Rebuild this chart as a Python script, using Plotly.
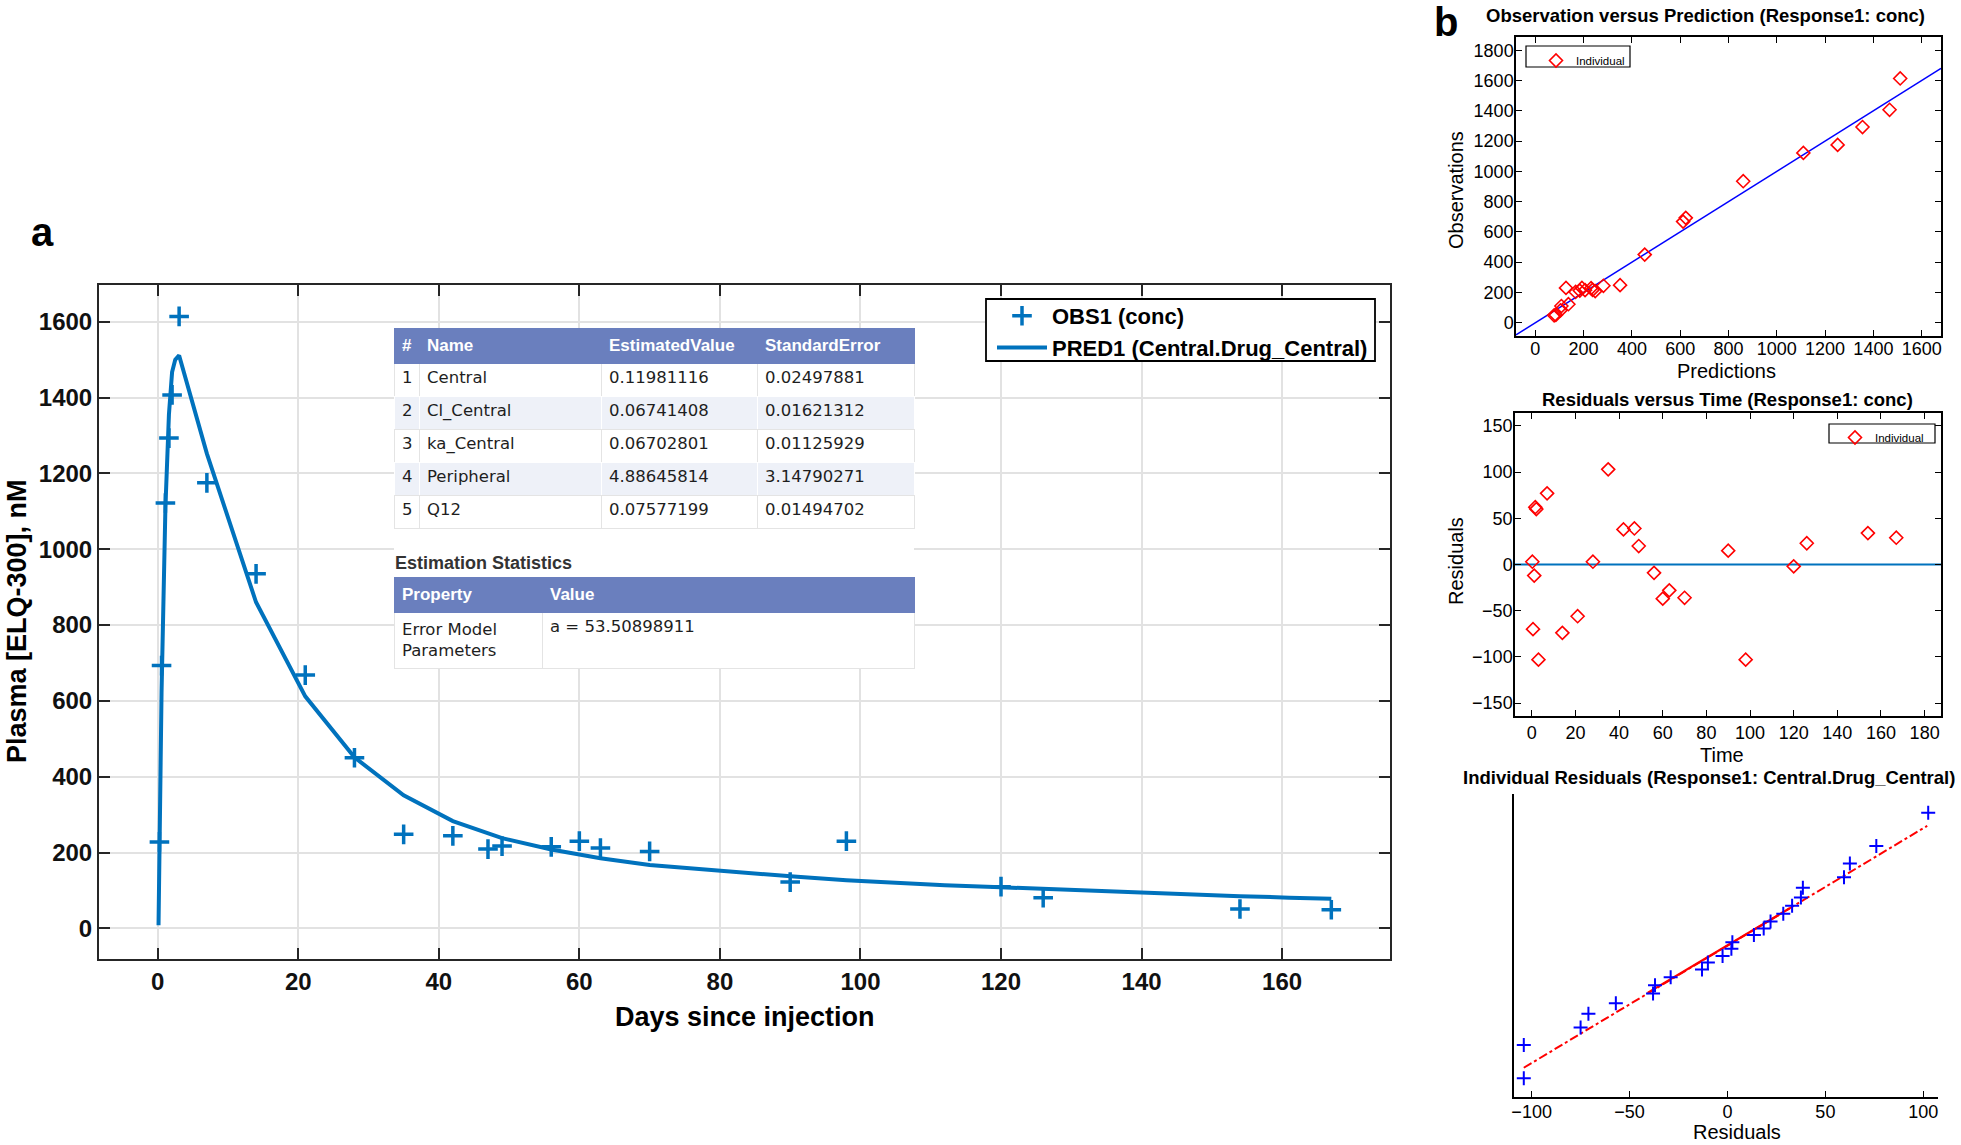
import plotly.graph_objects as go

W, H = 1961, 1145

# ---------------- Panel a: concentration-time data ----------------
obs_days = [0.25, 0.55, 1.1, 1.6, 2.05, 3.05, 7, 14, 21, 28, 35, 42, 47, 49, 56, 60, 63, 70,
            90, 98, 120, 126, 154, 167]
obs_conc = [228, 693, 1122, 1293, 1407, 1614, 1175, 935, 668, 450, 248, 244, 209, 217, 215, 230,
            212, 203, 122, 230, 110, 81, 51, 49]
pred_days = [0.12, 0.25, 0.55, 1.1, 1.6, 2.05, 2.5, 3.05, 7, 14, 21, 28, 35, 42, 49, 56, 63, 70,
             77, 84, 91, 98, 105, 112, 119, 126, 133, 140, 147, 154, 161, 167]
pred_conc = [8, 231, 623, 1110, 1355, 1467, 1500, 1511, 1252, 860, 612, 451, 351, 283, 238, 208,
             185, 167, 156, 146, 136, 127, 120, 114, 109, 104, 98, 93, 89, 85, 81, 78]

# Parameter estimates table
param_index = ["1", "2", "3", "4", "5"]
param_names = ["Central", "Cl_Central", "ka_Central", "Peripheral", "Q12"]
param_estimates = ["0.11981116", "0.06741408", "0.06702801", "4.88645814", "0.07577199"]
param_std_errors = ["0.02497881", "0.01621312", "0.01125929", "3.14790271", "0.01494702"]
table_header = ["#", "Name", "EstimatedValue", "StandardError"]
stats_header = ["Property", "Value"]
stats_property = ["Error Model<br>Parameters"]
stats_value = ["a = 53.50898911"]

# ---------------- Panel b: diagnostics ----------------
pred_at_obs = [231, 623, 1110, 1355, 1467, 1511, 1252, 861, 612, 453, 351, 282, 248, 237, 206,
               193, 184, 167, 137, 127, 108, 104, 85, 78]
identity_line = [-80, 1680]
residuals = [3, -70, -12, 62, 60, -103, 77, -74, -56, 3, 103, 38, 39, 20, -9, -37, -28, -36,
             15, -103, -2, 23, 34, 29]
qq_residuals = [-104, -104, -75, -71, -57, -38, -37, -29, -13, -10, -2.5, 2, 2.5, 13.5, 18.5,
                22, 28.5, 33, 37.5, 38.5, 59.5, 62.5, 76, 102.5]
qq_quantiles = [-2.04, -1.53, -1.26, -1.05, -0.89, -0.74, -0.61, -0.49, -0.37, -0.26, -0.16,
                -0.05, 0.05, 0.16, 0.26, 0.37, 0.49, 0.61, 0.74, 0.89, 1.05, 1.26, 1.53, 2.04]
qq_line_x = [-104, 102]
qq_line_y = [-1.88, 1.84]
qq_quartile_x = [-40.6, 31.8]
qq_quartile_y = [-0.725, 0.572]

MBLUE = "#0072BD"
HDR = "#6A7FBE"
ALT = "#EEF1F8"
HELV = "Liberation Sans, Arial, Helvetica, sans-serif"
LUC = "DejaVu Sans, Verdana, sans-serif"


def px_x(p):
    return p / W


def px_y(p):
    return 1 - p / H


fig = go.Figure()

# ---- panel a traces
fig.add_trace(go.Scatter(x=pred_days, y=pred_conc, mode="lines", name="PRED1 (Central.Drug_Central)",
                         line=dict(color=MBLUE, width=4), legendrank=2, xaxis="x", yaxis="y",
                         legend="legend"))
fig.add_trace(go.Scatter(x=obs_days, y=obs_conc, mode="markers", name="OBS1 (conc)",
                         marker=dict(symbol="cross-thin", size=14, color=MBLUE,
                                     line=dict(width=3.5, color=MBLUE)),
                         legendrank=1, xaxis="x", yaxis="y", legend="legend"))

# ---- white backing panel for the tables (hides the grid behind them)
fig.add_trace(go.Table(
    domain=dict(x=[px_x(394), px_x(914)], y=[px_y(700), px_y(328)]),
    header=dict(values=[""], height=1, fill_color="white", line=dict(width=0)),
    cells=dict(values=[[""]], height=335, fill_color="white", line=dict(width=0)),
    hoverinfo="skip",
))

# ---- tables
row_fill = ["white", ALT, "white", ALT, "white"]
row_line = ["#e4e4e4", "white", "#e4e4e4", "white", "#e4e4e4"]
fig.add_trace(go.Table(
    domain=dict(x=[px_x(394), px_x(914)], y=[px_y(540), px_y(328)]),
    columnwidth=[25, 182, 156, 157],
    header=dict(values=["<b>%s</b>" % h for h in table_header], fill_color=HDR, height=30,
                align="left", line=dict(color=HDR, width=1),
                font=dict(family=HELV, size=17, color="white")),
    cells=dict(values=[param_index, param_names, param_estimates, param_std_errors],
               fill_color=[row_fill] * 4, line=dict(color=[row_line] * 4, width=1),
               height=33, align="left", font=dict(family=LUC, size=16.5, color="#1e1e1e")),
))
fig.add_trace(go.Table(
    domain=dict(x=[px_x(394), px_x(914)], y=[px_y(680), px_y(577)]),
    columnwidth=[148, 372],
    header=dict(values=["<b>%s</b>" % h for h in stats_header], fill_color=HDR, height=33,
                align="left", line=dict(color=HDR, width=1),
                font=dict(family=HELV, size=17, color="white")),
    cells=dict(values=[stats_property, stats_value], fill_color="white",
               line=dict(color="#e4e4e4", width=1), height=52, align="left",
               font=dict(family=LUC, size=16.5, color="#1e1e1e")),
))

# ---- panel b1: observation vs prediction
fig.add_trace(go.Scatter(x=identity_line, y=identity_line, mode="lines", showlegend=False,
                         line=dict(color="#0000FF", width=1.5), xaxis="x2", yaxis="y2"))
fig.add_trace(go.Scatter(x=pred_at_obs, y=obs_conc, mode="markers", name="Individual",
                         marker=dict(symbol="diamond-open", size=10, color="#FF0000",
                                     line=dict(width=1.6, color="#FF0000")),
                         xaxis="x2", yaxis="y2", legend="legend2"))

# ---- panel b2: residuals vs time
fig.add_trace(go.Scatter(x=obs_days, y=residuals, mode="markers", name="Individual",
                         marker=dict(symbol="diamond-open", size=10, color="#FF0000",
                                     line=dict(width=1.6, color="#FF0000")),
                         xaxis="x3", yaxis="y3", legend="legend3"))

# ---- panel b3: normal probability plot of residuals
fig.add_trace(go.Scatter(x=qq_line_x, y=qq_line_y, mode="lines", showlegend=False,
                         line=dict(color="#FF0000", width=2, dash="dashdot"),
                         xaxis="x4", yaxis="y4"))
fig.add_trace(go.Scatter(x=qq_quartile_x, y=qq_quartile_y, mode="lines", showlegend=False,
                         line=dict(color="#FF0000", width=2.2), xaxis="x4", yaxis="y4"))
fig.add_trace(go.Scatter(x=qq_residuals, y=qq_quantiles, mode="markers", showlegend=False,
                         marker=dict(symbol="cross-thin", size=10, color="#0000FF",
                                     line=dict(width=2, color="#0000FF")),
                         xaxis="x4", yaxis="y4"))

main_ax = dict(showline=True, linecolor="#262626", linewidth=2, mirror="ticks", ticks="inside",
               ticklen=11, tickwidth=2, tickcolor="#262626", showgrid=True, gridcolor="#e2e2e2",
               gridwidth=1.5, zeroline=False, automargin=False,
               tickfont=dict(family=HELV, size=24, color="#111111", weight="bold"))
b_ax = dict(showline=True, linecolor="#000000", linewidth=1.5, mirror="ticks", ticks="inside",
            ticklen=6, tickwidth=1.2, tickcolor="#000000", showgrid=False, zeroline=False,
            automargin=False, tickfont=dict(family=HELV, size=18, color="#000000"))

fig.update_layout(
    width=W, height=H, margin=dict(l=0, r=0, t=0, b=0), template="none",
    paper_bgcolor="white", plot_bgcolor="white",
    xaxis=dict(main_ax, domain=[px_x(99), px_x(1390)], anchor="y", range=[-8.35, 175.35],
               tickvals=list(range(0, 161, 20))),
    yaxis=dict(main_ax, domain=[px_y(959), px_y(285)], anchor="x", range=[-80.8, 1696.8],
               tickvals=list(range(0, 1601, 200))),
    xaxis2=dict(b_ax, domain=[px_x(1516), px_x(1941)], anchor="y2", range=[-80, 1680],
                tickvals=list(range(0, 1601, 200)), ticklabelstandoff=-4),
    yaxis2=dict(b_ax, domain=[px_y(336), px_y(37)], anchor="x2", range=[-88, 1888],
                tickvals=list(range(0, 1801, 200)), ticklabelstandoff=-3),
    xaxis3=dict(b_ax, domain=[px_x(1515), px_x(1941)], anchor="y3", range=[-7.7, 187.5],
                tickvals=list(range(0, 181, 20))),
    yaxis3=dict(b_ax, domain=[px_y(716), px_y(413)], anchor="x3", range=[-164, 164],
                tickvals=list(range(-150, 151, 50)), ticklabelstandoff=-3),
    xaxis4=dict(b_ax, mirror=False, domain=[px_x(1514), px_x(1938)], anchor="y4",
                range=[-109, 107.5], tickvals=[-100, -50, 0, 50, 100], ticklabelstandoff=-2),
    yaxis4=dict(b_ax, mirror=False, ticks="", showticklabels=False,
                domain=[px_y(1097), px_y(794)], anchor="x4", range=[-2.33, 2.33]),
    legend=dict(x=px_x(992), y=px_y(295), xanchor="left", yanchor="top",
                bgcolor="rgba(0,0,0,0)", borderwidth=0, itemwidth=50, tracegroupgap=0,
                font=dict(family=HELV, size=22, color="#000000", weight="bold")),
    legend2=dict(x=px_x(1536), y=px_y(46), xanchor="left", yanchor="top",
                 bgcolor="rgba(0,0,0,0)", borderwidth=0, itemwidth=30,
                 font=dict(family=HELV, size=11.5, color="#000000")),
    legend3=dict(x=px_x(1835), y=px_y(423), xanchor="left", yanchor="top",
                 bgcolor="rgba(0,0,0,0)", borderwidth=0, itemwidth=30,
                 font=dict(family=HELV, size=11.5, color="#000000")),
    showlegend=True,
)

# legend frames (drawn underneath the legend entries)
for (x0, y0, x1, y1, lw) in [(986, 299, 1375, 361, 1.8), (1526, 46, 1630, 67, 1.2),
                             (1829, 424, 1935, 443, 1.2)]:
    fig.add_shape(type="rect", xref="paper", yref="paper", x0=px_x(x0), x1=px_x(x1),
                  y0=px_y(y1), y1=px_y(y0), fillcolor="white",
                  line=dict(color="#000000", width=lw), layer="above")

# zero reference line in residual plot
fig.add_shape(type="line", xref="x3 domain", x0=0, x1=1, yref="y3", y0=0, y1=0,
              line=dict(color=MBLUE, width=2), layer="below")


def ann(text, x, y, size, bold=False, angle=0, xanchor="center", color="#000000"):
    fig.add_annotation(text=text, x=px_x(x), y=px_y(y), xref="paper", yref="paper",
                       showarrow=False, textangle=angle, xanchor=xanchor, yanchor="middle",
                       font=dict(family=HELV, size=size, color=color,
                                 weight="bold" if bold else "normal"))


ann("a", 42, 232, 40, bold=True)
ann("b", 1446, 22, 40, bold=True)
ann("Plasma [ELQ-300], nM", 17, 621, 27, bold=True, angle=-90)
ann("Days since injection", 745, 1017, 27, bold=True)
ann("Estimation Statistics", 393, 563, 18, bold=True, xanchor="left", color="#333333")
ann("Observation versus Prediction (Response1: conc)", 1705, 16, 18.5, bold=True)
ann("Observations", 1456, 190, 20, angle=-90)
ann("Predictions", 1726, 371, 20)
ann("Residuals versus Time (Response1: conc)", 1727, 400, 18.5, bold=True)
ann("Residuals", 1456, 561, 20, angle=-90)
ann("Time", 1722, 755, 20)
ann("Individual Residuals (Response1: Central.Drug_Central)", 1709, 777, 18.5, bold=True)
ann("Residuals", 1737, 1132, 20)

fig.write_html("out.html", config={"displayModeBar": False},
               post_script="document.body.style.margin='0px';")
